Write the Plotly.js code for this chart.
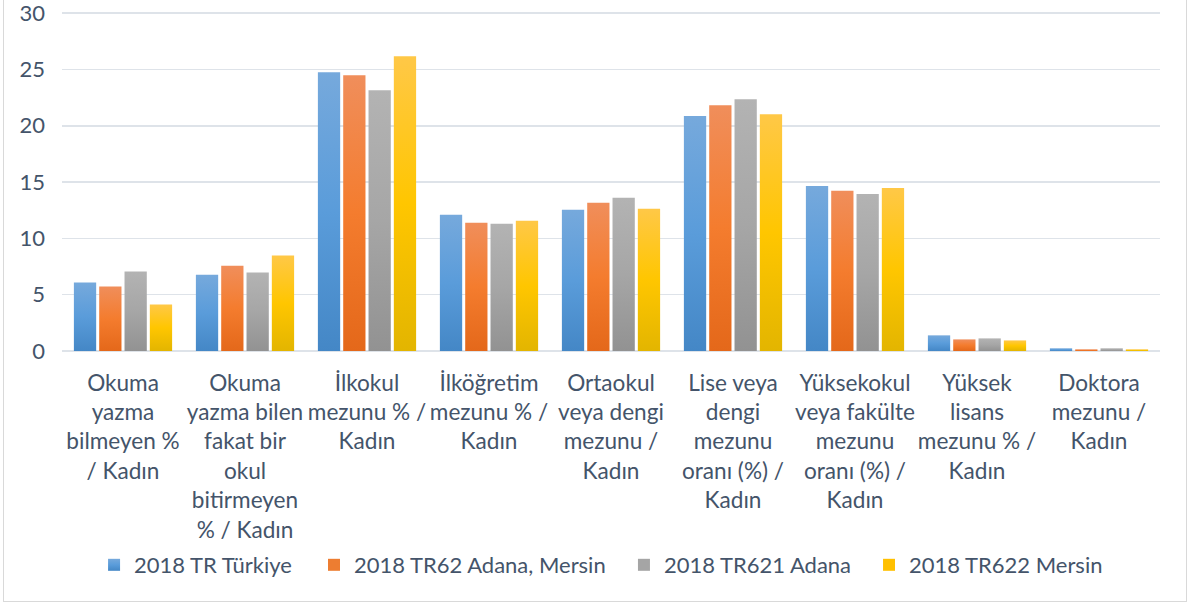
<!DOCTYPE html>
<html>
<head>
<meta charset="utf-8">
<script src="https://cdn.plot.ly/plotly-3.0.1.min.js"></script>
<style>
  html, body { margin: 0; padding: 0; background: #fff; width: 1188px; height: 605px; overflow: hidden; }
  #frame { position: absolute; left: 3px; top: -1px; width: 1184px; height: 603px; border: 1px solid #D9D9D9; box-sizing: border-box; }
  #chart { position: absolute; left: 0; top: 0; width: 1188px; height: 605px; }
</style>
</head>
<body>
<div id="frame"></div>
<div id="chart"></div>
<script>
const categories = [
  "Okuma<br>yazma<br>bilmeyen %<br>/ Kadın",
  "Okuma<br>yazma bilen<br>fakat bir<br>okul<br>bitirmeyen<br>% / Kadın",
  "İlkokul<br>mezunu % /<br>Kadın",
  "İlköğretim<br>mezunu % /<br>Kadın",
  "Ortaokul<br>veya dengi<br>mezunu /<br>Kadın",
  "Lise veya<br>dengi<br>mezunu<br>oranı (%) /<br>Kadın",
  "Yüksekokul<br>veya fakülte<br>mezunu<br>oranı (%) /<br>Kadın",
  "Yüksek<br>lisans<br>mezunu % /<br>Kadın",
  "Doktora<br>mezunu /<br>Kadın"
];
const seriesNames = ["2018 TR Türkiye", "2018 TR62 Adana, Mersin", "2018 TR621 Adana", "2018 TR622 Mersin"];
const turkiye     = [6.08, 6.78, 24.75, 12.09, 12.54, 20.86, 14.66, 1.39, 0.24];
const adanaMersin = [5.72, 7.58, 24.48, 11.39, 13.16, 21.83, 14.22, 1.03, 0.15];
const adana       = [7.05, 6.96, 23.16, 11.30, 13.60, 22.36, 13.95, 1.12, 0.24];
const mersin      = [4.13, 8.47, 26.17, 11.56, 12.63, 21.03, 14.48, 0.94, 0.15];
const yTicks = [0, 5, 10, 15, 20, 25, 30];

const colors = ["#5B9BD5", "#ED7D31", "#A5A5A5", "#FFC000"];
const gradients = [
  ["#76A9DC", "#5A9CDA", "#4487C6"],
  ["#F08E5B", "#F47C2E", "#E4681A"],
  ["#B3B3B3", "#A6A6A6", "#929292"],
  ["#FFC847", "#FFC600", "#E3B500"]
];
const allValues = [turkiye, adanaMersin, adana, mersin];

const textColor = "#44546A";
const font = "Lato, 'Open Sans', sans-serif";
const legendIds = ["legend", "legend2", "legend3", "legend4"];
const legendX = [0.0292, 0.2295, 0.5118, 0.7350];

const traces = allValues.map((vals, i) => ({
  type: "bar",
  name: seriesNames[i],
  x: categories,
  y: vals,
  legend: legendIds[i],
  marker: { color: colors[i], line: { width: 0 } },
  hoverinfo: "none"
}));

const layout = {
  width: 1188,
  height: 605,
  margin: { l: 62, r: 28, t: 12, b: 254 },
  paper_bgcolor: "rgba(0,0,0,0)",
  plot_bgcolor: "rgba(0,0,0,0)",
  barmode: "group",
  bargap: 0.17,
  bargroupgap: 0.12,
  font: { family: font, size: 22, color: textColor },
  xaxis: {
    type: "category",
    tickangle: 0,
    showgrid: false,
    showline: false,
    zeroline: false,
    ticks: "",
    ticklabelstandoff: 16,
    tickfont: { family: font, size: 22.6, color: textColor },
    fixedrange: true
  },
  yaxis: {
    range: [0, 30.1],
    autorange: false,
    tickmode: "array",
    tickvals: yTicks,
    ticktext: yTicks.map(String),
    ticklabeloverflow: "allow",
    showgrid: true,
    gridcolor: "#DEE3E9",
    gridwidth: 1.6,
    zeroline: true,
    zerolinecolor: "#DEE3E9",
    zerolinewidth: 1.6,
    showline: false,
    ticks: "",
    ticklabelstandoff: 16,
    tickfont: { family: font, size: 22, color: textColor },
    fixedrange: true
  },
  showlegend: true
};
legendIds.forEach((id, i) => {
  layout[id] = {
    orientation: "h",
    x: legendX[i],
    xanchor: "left",
    y: -0.6313,
    yanchor: "middle",
    font: { family: font, size: 22, color: textColor },
    itemwidth: 30,
    bgcolor: "rgba(0,0,0,0)"
  };
});

Plotly.newPlot("chart", traces, layout, { staticPlot: true, displayModeBar: false }).then(gd => {
  const svg = gd.querySelector(".main-svg");
  const ns = "http://www.w3.org/2000/svg";
  const defs = document.createElementNS(ns, "defs");
  gradients.forEach((g, i) => {
    const lg = document.createElementNS(ns, "linearGradient");
    lg.setAttribute("id", "barGrad" + i);
    lg.setAttribute("x1", "0"); lg.setAttribute("y1", "0");
    lg.setAttribute("x2", "0"); lg.setAttribute("y2", "1");
    [[0, g[0]], [0.5, g[1]], [1, g[2]]].forEach(([o, c]) => {
      const s = document.createElementNS(ns, "stop");
      s.setAttribute("offset", o);
      s.setAttribute("stop-color", c);
      lg.appendChild(s);
    });
    defs.appendChild(lg);
  });
  svg.insertBefore(defs, svg.firstChild);
  gd.querySelectorAll(".barlayer .trace").forEach((tr, i) => {
    tr.querySelectorAll("path").forEach(p => { p.style.fill = "url(#barGrad" + i + ")"; });
  });
  gd.querySelectorAll(".legend").forEach(lg => {
    lg.querySelectorAll(".traces").forEach(tr => {
      const name = tr.textContent.trim();
      const i = seriesNames.indexOf(name);
      if (i >= 0) {
        tr.querySelectorAll(".legendpoints path").forEach(p => { p.style.fill = "url(#barGrad" + i + ")"; p.style.stroke = "none"; });
      }
    });
  });
});
</script>
</body>
</html>
